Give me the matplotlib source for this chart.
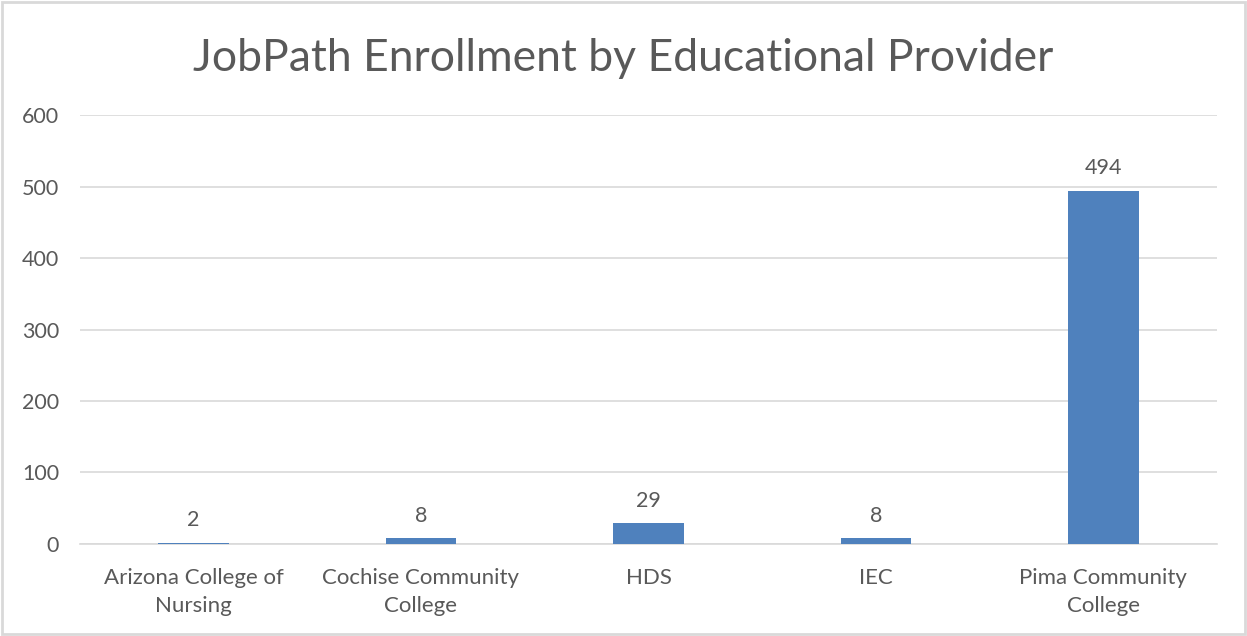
import matplotlib
matplotlib.use("Agg")
import matplotlib.pyplot as plt
from matplotlib.patches import Rectangle

providers = ["Arizona College of\nNursing", "Cochise Community\nCollege", "HDS", "IEC",
             "Pima Community\nCollege"]
enrollment = [2, 8, 29, 8, 494]
y_ticks = [0, 100, 200, 300, 400, 500, 600]

plt.rcParams["font.family"] = ["Lato", "DejaVu Sans"]
text_color = "#595959"

fig = plt.figure(figsize=(12.47, 6.36), dpi=100)
ax = fig.add_axes([0.064, 0.1447, 0.912, 0.6743])

x = range(len(providers))
bars = ax.bar(x, enrollment, width=0.31, color="#4F81BD", zorder=3)
for rect, v in zip(bars, enrollment):
    ax.annotate(str(v), (rect.get_x() + rect.get_width() / 2, v),
                xytext=(0, 9), textcoords="offset points",
                ha="center", va="bottom", fontsize=15.5, color=text_color)

ax.set_xlim(-0.5, len(providers) - 0.5)
ax.set_ylim(0, 600)
ax.set_yticks(y_ticks)
ax.set_xticks(list(x))
ax.set_xticklabels(providers, fontsize=16, color=text_color, linespacing=1.5)
ax.tick_params(axis="y", labelsize=15.5, labelcolor=text_color, length=0, pad=15)
ax.tick_params(axis="x", length=0, pad=17)
ax.grid(axis="y", color="#D9D9D9", linewidth=1.2, zorder=0)
for side in ["top", "right", "left"]:
    ax.spines[side].set_visible(False)
ax.spines["bottom"].set_color("#D9D9D9")
ax.spines["bottom"].set_linewidth(1.2)

fig.text(0.5, 0.908, "JobPath Enrollment by Educational Provider", ha="center",
         va="center", fontsize=32, color=text_color)
fig.patches.append(Rectangle((0.002, 0.003), 0.996, 0.994, transform=fig.transFigure,
                             fill=False, edgecolor="#D9D9D9", linewidth=2))

fig.savefig("out.png", dpi=100)
